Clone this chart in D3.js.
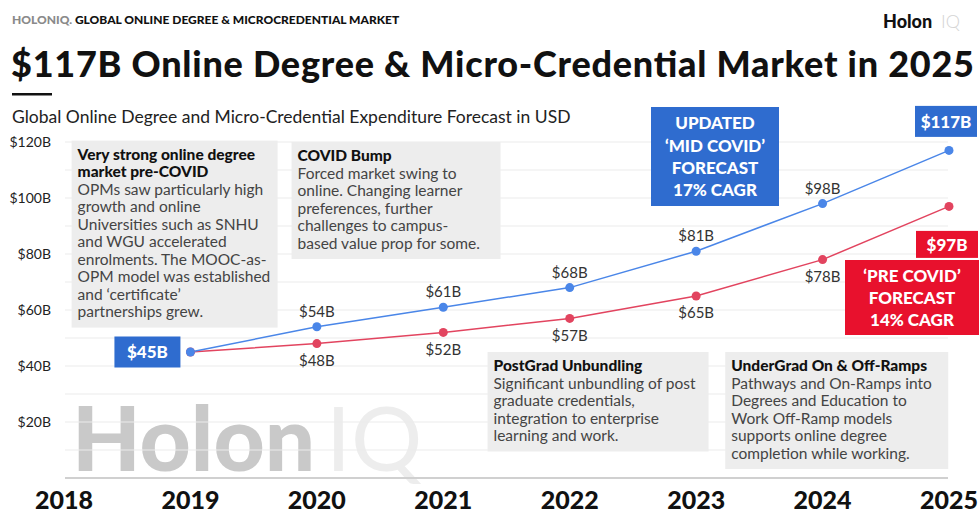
<!DOCTYPE html>
<html>
<head>
<meta charset="utf-8">
<script src="https://cdn.jsdelivr.net/npm/d3@7"></script>
<style>
	body { margin: 0; background: #fff; }
	svg { display: block; font-family: Lato, "Open Sans", sans-serif; }
</style>
</head>
<body>
<div id="chart-area"></div>
<script>
// Data
let years = [2018, 2019, 2020, 2021, 2022, 2023, 2024, 2025];
let dataYears = [2019, 2020, 2021, 2022, 2023, 2024, 2025];
let midCovid = [45, 54, 61, 68, 81, 98, 117];
let preCovid = [45, 48, 52, 57, 65, 78, 97];
let yTicks = [20, 40, 60, 80, 100, 120];
let gridTicks = [0, 10, 20, 30, 40, 50, 60, 70, 80, 90, 100, 110, 120];

let notes = [
	{year: 2018.06, top: 120.5, title: ["Very strong online degree", "market pre-COVID"],
		body: ["OPMs saw particularly high", "growth and online", "Universities such as SNHU", "and WGU accelerated",
			"enrolments. The MOOC-as-", "OPM model was established", "and \u2018certificate\u2019", "partnerships grew."], w: 206},
	{year: 2019.8, top: 120, title: ["COVID Bump"],
		body: ["Forced market swing to", "online. Changing learner", "preferences, further",
			"challenges to campus-", "based value prop for some."], w: 209},
	{year: 2021.35, top: 45, title: ["PostGrad Unbundling"],
		body: ["Significant unbundling of post", "graduate credentials,", "integration to enterprise", "learning and work."], w: 221},
	{year: 2023.23, top: 45, title: ["UnderGrad On & Off-Ramps"],
		body: ["Pathways and On-Ramps into", "Degrees and Education to", "Work Off-Ramp models",
			"supports online degree", "completion while working."], w: 223}
];

let blue = "#4a86e8";
let red = "#e2445f";
let boxBlue = "#2f6ccf";
let boxRed = "#e8112d";

let width = 979, height = 509;
let svg = d3.select("#chart-area")
	.append("svg")
	.attr("width", width)
	.attr("height", height);

// Scales
let x = d3.scaleLinear()
	.domain([2018, 2025])
	.range([64, 949]);
let y = d3.scaleLinear()
	.domain([0, 120])
	.range([478, 142]);

// Header
let head = svg.append("text")
	.attr("x", 12).attr("y", 24)
	.attr("font-size", 12).attr("font-weight", 900);
head.append("tspan").attr("fill", "#8a8a8a").text("HOLONIQ.");
head.append("tspan").attr("fill", "#111").text(" GLOBAL ONLINE DEGREE & MICROCREDENTIAL MARKET");

svg.append("text")
	.attr("x", 883).attr("y", 28)
	.attr("font-size", 18).attr("font-weight", 900)
	.attr("fill", "#111")
	.text("Holon");
svg.append("text")
	.attr("x", 941).attr("y", 28)
	.attr("font-size", 18).attr("font-weight", 300)
	.attr("fill", "#d4d4d4")
	.text("IQ");

svg.append("text")
	.attr("x", 11).attr("y", 77)
	.attr("font-size", 36).attr("font-weight", 900)
	.attr("fill", "#111")
	.attr("textLength", 963)
	.attr("lengthAdjust", "spacing")
	.text("$117B Online Degree & Micro-Credential Market in 2025");

svg.append("rect")
	.attr("x", 12).attr("y", 93)
	.attr("width", 40).attr("height", 2.5)
	.attr("fill", "#111");

svg.append("text")
	.attr("x", 12).attr("y", 123)
	.attr("font-size", 17.5)
	.attr("fill", "#222")
	.text("Global Online Degree and Micro-Credential Expenditure Forecast in USD");

// Watermark
svg.append("text")
	.attr("x", 72).attr("y", 471)
	.attr("font-size", 89).attr("font-weight", 900)
	.attr("fill", "#c9c9c9")
	.text("Holon");
svg.append("text")
	.attr("x", 326).attr("y", 471)
	.attr("font-size", 89).attr("font-weight", 400)
	.attr("fill", "#ededed")
	.text("IQ");

// Grid lines
svg.append("g")
	.selectAll("line")
	.data(gridTicks)
	.enter()
	.append("line")
	.attr("x1", 65).attr("x2", 948)
	.attr("y1", d => y(d)).attr("y2", d => y(d))
	.attr("stroke", d => d === 0 ? "#d0d0d0" : "#ececec")
	.attr("stroke-width", d => d === 0 ? 2 : 1.2);

// Y axis labels
svg.append("g")
	.selectAll("text")
	.data(yTicks)
	.enter()
	.append("text")
	.attr("x", 51).attr("y", d => y(d))
	.attr("dy", "0.35em")
	.attr("text-anchor", "end")
	.attr("font-size", 14)
	.attr("fill", "#222")
	.text(d => "$" + d + "B");

// X axis labels
svg.append("g")
	.selectAll("text")
	.data(years)
	.enter()
	.append("text")
	.attr("x", d => x(d)).attr("y", 509)
	.attr("text-anchor", "middle")
	.attr("font-size", 25).attr("font-weight", 900)
	.attr("fill", "#111")
	.text(d => d);

// Annotation boxes
notes.forEach(n => {
	let g = svg.append("g");
	let lines = n.title.length + n.body.length;
	let x0 = x(n.year);
	let y0 = y(n.top);
	let lh = 17.5;
	g.append("rect")
		.attr("x", x0).attr("y", y0)
		.attr("width", n.w).attr("height", lines * lh + 12)
		.attr("fill", "#ededed");
	let t = g.append("text")
		.attr("font-size", 15.5)
		.attr("fill", "#444");
	n.title.forEach((s, i) => {
		t.append("tspan")
			.attr("x", x0 + 6).attr("y", y0 + 19 + i * lh)
			.attr("font-weight", 900).attr("fill", "#111")
			.text(s);
	});
	n.body.forEach((s, i) => {
		t.append("tspan")
			.attr("x", x0 + 6).attr("y", y0 + 19 + (i + n.title.length) * lh)
			.text(s);
	});
});

// Lines
let line = d3.line()
	.x((d, i) => x(dataYears[i]))
	.y(d => y(d));

svg.append("path")
	.datum(preCovid)
	.attr("d", line)
	.attr("fill", "none")
	.attr("stroke", red)
	.attr("stroke-width", 1.5);
svg.append("path")
	.datum(midCovid)
	.attr("d", line)
	.attr("fill", "none")
	.attr("stroke", blue)
	.attr("stroke-width", 1.5);

svg.append("g")
	.selectAll("circle")
	.data(preCovid)
	.enter()
	.append("circle")
	.attr("cx", (d, i) => x(dataYears[i]))
	.attr("cy", d => y(d))
	.attr("r", 4.5)
	.attr("fill", red);
svg.append("g")
	.selectAll("circle")
	.data(midCovid)
	.enter()
	.append("circle")
	.attr("cx", (d, i) => x(dataYears[i]))
	.attr("cy", d => y(d))
	.attr("r", 4.5)
	.attr("fill", blue);

// Value labels (skip first and last, those are in boxes)
svg.append("g")
	.selectAll("text")
	.data(midCovid.slice(1, 6))
	.enter()
	.append("text")
	.attr("x", (d, i) => x(dataYears[i + 1]))
	.attr("y", d => y(d) - 15)
	.attr("dy", "0.35em")
	.attr("text-anchor", "middle")
	.attr("font-size", 15)
	.attr("fill", "#333")
	.text(d => "$" + d + "B");
svg.append("g")
	.selectAll("text")
	.data(preCovid.slice(1, 6))
	.enter()
	.append("text")
	.attr("x", (d, i) => x(dataYears[i + 1]))
	.attr("y", d => y(d) + 17)
	.attr("dy", "0.35em")
	.attr("text-anchor", "middle")
	.attr("font-size", 15)
	.attr("fill", "#333")
	.text(d => "$" + d + "B");

// Callout boxes
function callout(cx, cy, w, h, fill, lines, size) {
	let g = svg.append("g");
	g.append("rect")
		.attr("x", cx - w / 2).attr("y", cy - h / 2)
		.attr("width", w).attr("height", h)
		.attr("fill", fill);
	let lh = size * 1.3;
	lines.forEach((s, i) => {
		g.append("text")
			.attr("x", cx)
			.attr("y", cy + (i - (lines.length - 1) / 2) * lh)
			.attr("dy", "0.36em")
			.attr("text-anchor", "middle")
			.attr("font-size", size).attr("font-weight", 900)
			.attr("fill", "#fff")
			.text(s);
	});
}

callout(x(2019) - 43, y(midCovid[0]), 66, 31, boxBlue, ["$" + midCovid[0] + "B"], 17);
callout(946, y(midCovid[6]) - 29, 62, 31, boxBlue, ["$" + midCovid[6] + "B"], 17);
callout(947, y(preCovid[6]) + 38, 62, 27, boxRed, ["$" + preCovid[6] + "B"], 17);
callout(715, 156.5, 128, 99, boxBlue, ["UPDATED", "\u2018MID COVID\u2019", "FORECAST", "17% CAGR"], 17);
callout(912, 297.5, 134, 75, boxRed, ["\u2018PRE COVID\u2019", "FORECAST", "14% CAGR"], 17);
</script>
</body>
</html>
